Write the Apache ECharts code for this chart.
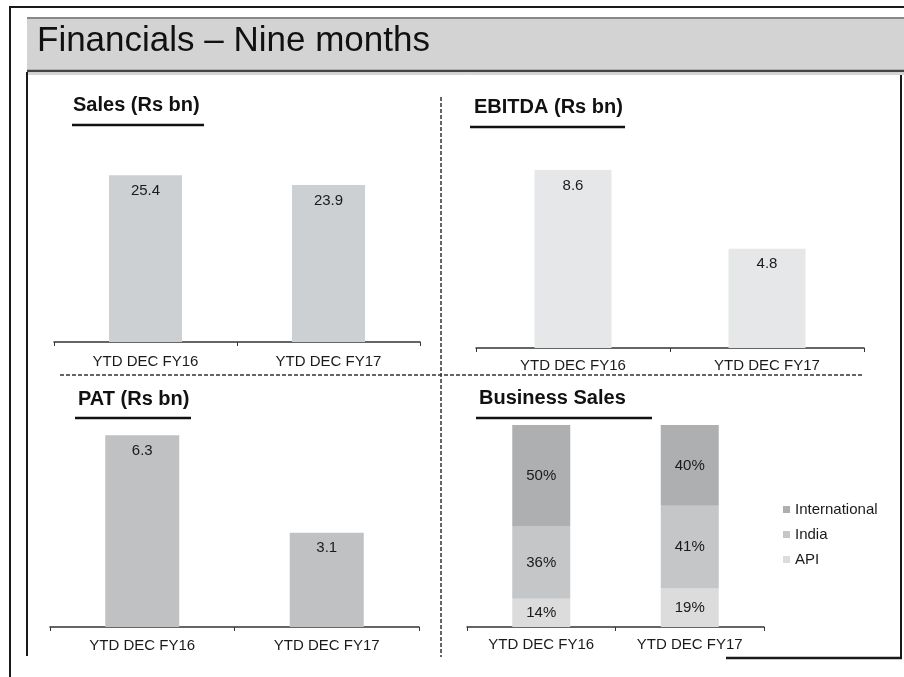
<!DOCTYPE html>
<html>
<head>
<meta charset="utf-8">
<title>Financials – Nine months</title>
<script src="https://cdn.jsdelivr.net/npm/echarts@6/dist/echarts.min.js"></script>
<style>
  html, body { margin: 0; padding: 0; background: #fff; }
  #chart { width: 904px; height: 677px; }
</style>
</head>
<body>
<div id="chart"></div>
<script>
// data
const categories = ['YTD DEC FY16', 'YTD DEC FY17']
const salesValues = [25.4, 23.9]
const ebitdaValues = [8.6, 4.8]
const patValues = [6.3, 3.1]
const legendOrder = ['International', 'India', 'API']
const apiShare = [14, 19]
const indiaShare = [36, 41]
const internationalShare = [50, 40]

const FONT = "'Liberation Sans', Arial, sans-serif"
const INK = '#1a1a1a'

function xAxisFor(gridIndex, margin) {
  return {
    gridIndex,
    type: 'category',
    data: categories,
    axisLine: { lineStyle: { color: '#333', width: 1.5 } },
    axisTick: { show: true, length: 4, lineStyle: { color: '#333', width: 1 } },
    axisLabel: { margin, fontSize: 15, color: INK, fontFamily: FONT },
  }
}

function yAxisFor(gridIndex, max) {
  return { gridIndex, type: 'value', min: 0, max, show: false }
}

function valueBar(idx, data, color, barWidth) {
  return {
    type: 'bar',
    xAxisIndex: idx,
    yAxisIndex: idx,
    data,
    barWidth,
    itemStyle: { color },
    label: {
      show: true,
      position: 'insideTop',
      distance: 8,
      fontSize: 15,
      color: INK,
      fontFamily: FONT,
    },
    silent: true,
  }
}

function shareBar(name, data, color) {
  return {
    name,
    type: 'bar',
    stack: 'share',
    xAxisIndex: 3,
    yAxisIndex: 3,
    data,
    barWidth: 58,
    itemStyle: { color },
    label: {
      show: true,
      position: 'inside',
      formatter: (p) => p.value + '%',
      fontSize: 15,
      color: INK,
      fontFamily: FONT,
    },
    silent: true,
  }
}

function sectionTitle(text, left, top) {
  return {
    text,
    left,
    top,
    padding: 0,
    textStyle: { fontSize: 20, fontWeight: 'bold', color: '#111', fontFamily: FONT },
  }
}

function line(x1, y1, x2, y2, width, color, dash) {
  return {
    type: 'line',
    shape: { x1, y1, x2, y2 },
    style: { stroke: color || '#1a1a1a', lineWidth: width, lineDash: dash || null },
    silent: true,
  }
}

const chart = echarts.init(document.getElementById('chart'), null, { renderer: 'canvas' })

chart.setOption({
  animation: false,
  backgroundColor: '#fff',
  title: [
    sectionTitle('Sales (Rs bn)', 73, 95),
    sectionTitle('EBITDA (Rs bn)', 474, 97),
    sectionTitle('PAT (Rs bn)', 78, 389),
    sectionTitle('Business Sales', 479, 388),
  ],
  legend: {
    data: legendOrder,
    orient: 'vertical',
    left: 783,
    top: 502,
    padding: 0,
    itemWidth: 7,
    itemHeight: 7,
    itemGap: 10,
    icon: 'rect',
    textStyle: { fontSize: 15, color: INK, fontFamily: FONT },
    selectedMode: false,
  },
  grid: [
    { left: 54, top: 145, width: 366, height: 197 },
    { left: 476, top: 141, width: 388, height: 207 },
    { left: 50, top: 414, width: 369, height: 213 },
    { left: 467, top: 425, width: 297, height: 202 },
  ],
  xAxis: [xAxisFor(0, 12), xAxisFor(1, 10), xAxisFor(2, 11), xAxisFor(3, 10)],
  yAxis: [yAxisFor(0, 30), yAxisFor(1, 10), yAxisFor(2, 7), yAxisFor(3, 100)],
  series: [
    valueBar(0, salesValues, '#cdd0d3', 73),
    valueBar(1, ebitdaValues, '#e6e7e8', 77),
    valueBar(2, patValues, '#bfc1c2', 74),
    shareBar('API', apiShare, '#dcdcdc'),
    shareBar('India', indiaShare, '#c4c6c8'),
    shareBar('International', internationalShare, '#adafb0'),
  ],
  graphic: [
    // title band
    { type: 'rect', shape: { x: 27, y: 17, width: 877, height: 54 }, style: { fill: '#d3d3d3' }, silent: true },
    line(27, 18, 904, 18, 1.5, '#6f6f6f'),
    line(27, 71, 904, 71, 2.5, '#444'),
    line(27, 74, 904, 74, 1, '#aaa'),
    {
      type: 'text',
      left: 37,
      top: 24,
      style: { text: 'Financials – Nine months', fontSize: 35, fill: '#111', fontFamily: FONT },
      silent: true,
    },
    // frame
    line(9, 7, 904, 7, 2, '#1a1a1a'),
    line(10, 6, 10, 677, 2, '#1a1a1a'),
    line(27, 72, 27, 656, 2, '#1a1a1a'),
    line(901, 75, 901, 659, 2, '#1a1a1a'),
    line(726, 658, 902, 658, 2.5, '#1a1a1a'),
    // quadrant dividers
    line(441, 97, 441, 657, 1.5, '#333', [4, 2]),
    line(60, 375, 862, 375, 1.5, '#333', [4, 2]),
    // heading underlines
    line(72, 125, 204, 125, 2.5, '#111'),
    line(470, 127, 625, 127, 2.5, '#111'),
    line(75, 418, 191, 418, 2.5, '#111'),
    line(476, 418, 652, 418, 2.5, '#111'),
  ],
})
</script>
</body>
</html>
